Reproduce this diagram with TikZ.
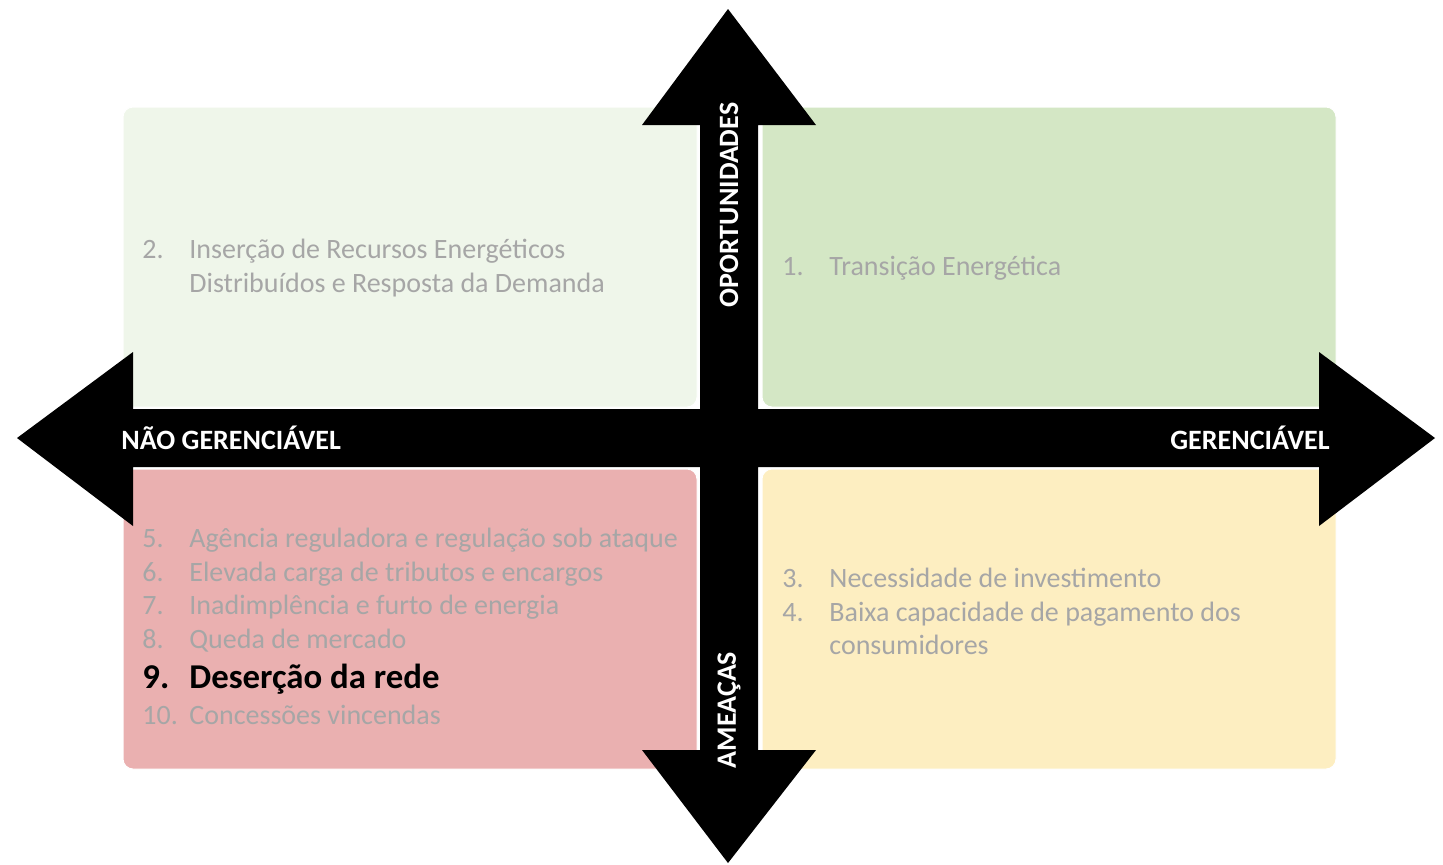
\documentclass[tikz,border=0pt]{standalone}
\usepackage{fontspec}
\setmainfont{Carlito}
\definecolor{tlc}{HTML}{EFF6EA}
\definecolor{trc}{HTML}{D4E7C5}
\definecolor{blc}{HTML}{EAB0B0}
\definecolor{brc}{HTML}{FDEEC1}
\definecolor{txtgray}{HTML}{A6A6A6}
\tikzset{
  qbox/.style={draw=white, line width=0.5pt, rounded corners=5pt, minimum width=287pt, minimum height=150pt, inner sep=0pt},
  item/.style={anchor=base west, inner sep=0pt, text=txtgray, font=\fontsize{14}{16.8}\selectfont},
  hot/.style={anchor=base west, inner sep=0pt, text=black, font=\fontsize{17.4}{20}\selectfont\bfseries},
  axis/.style={inner sep=0pt, text=white, font=\fontsize{14}{16}\selectfont\bfseries}
}
\begin{document}
\begin{tikzpicture}[x=0.5pt,y=-0.5pt]
\useasboundingbox[fill=white] (0,0) rectangle (1443,864);
% quadrants
\node[qbox, fill=tlc] (tl) at (410,257) {};
\node[qbox, fill=trc] (tr) at (1049,257) {};
\node[qbox, fill=blc] (bl) at (410,619) {};
\node[qbox, fill=brc] (br) at (1049,619) {};
% cross arrows
\fill[black] (728,9) -- (816,125) -- (758,125) -- (758,409) -- (1319,409) -- (1319,352) -- (1435,438) -- (1319,526) -- (1319,467) -- (758,467) -- (758,750) -- (816,750) -- (728,863) -- (642,750) -- (700,750) -- (700,467) -- (133,467) -- (133,526) -- (17,438) -- (133,352) -- (133,409) -- (700,409) -- (700,125) -- (642,125) -- cycle;
% axis labels
\node[axis, anchor=west] (ng) at (121,438) {NÃO GERENCIÁVEL};
\node[axis, anchor=east] (g) at (1330,438) {GERENCIÁVEL};
\node[axis, rotate=90] (op) at (729,205) {OPORTUNIDADES};
\node[axis, rotate=90] (am) at (729,710) {AMEAÇAS};
% top-left
\node[item] (n2) at (142,258) {2.};
\node[item] (t2) at (189,258) {Inserção de Recursos Energéticos};
\node[item] (t2b) at (189,292) {Distribuídos e Resposta da Demanda};
% top-right
\node[item] (n1) at (782,275) {1.};
\node[item] (t1) at (829,275) {Transição Energética};
% bottom-right
\node[item] (n3) at (782,587) {3.};
\node[item] (t3) at (829,587) {Necessidade de investimento};
\node[item] (n4) at (782,621) {4.};
\node[item] (t4) at (829,621) {Baixa capacidade de pagamento dos};
\node[item] (t4b) at (829,654) {consumidores};
% bottom-left
\node[item] (n5) at (142,547) {5.};
\node[item] (t5) at (189,547) {Agência reguladora e regulação sob ataque};
\node[item] (n6) at (142,581) {6.};
\node[item] (t6) at (189,581) {Elevada carga de tributos e encargos};
\node[item] (n7) at (142,614) {7.};
\node[item] (t7) at (189,614) {Inadimplência e furto de energia};
\node[item] (n8) at (142,648) {8.};
\node[item] (t8) at (189,648) {Queda de mercado};
\node[hot] (n9) at (142,688) {9.};
\node[hot] (t9) at (189,688) {Deserção da rede};
\node[item] (n10) at (142,724) {10.};
\node[item] (t10) at (189,724) {Concessões vincendas};
\end{tikzpicture}
\end{document}
